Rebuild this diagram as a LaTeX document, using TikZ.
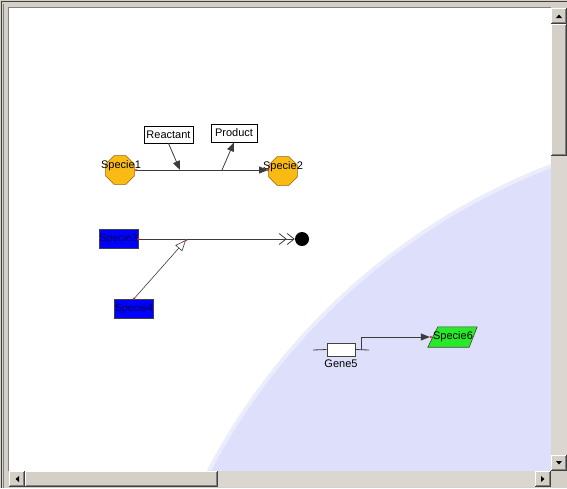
\documentclass[tikz,border=0pt]{standalone}
\usepackage{fontspec}
\setmainfont{Liberation Sans}
\usetikzlibrary{shapes.geometric,arrows.meta}
\definecolor{wingray}{RGB}{212,208,200}
\definecolor{windark}{RGB}{128,128,128}
\definecolor{winblack}{RGB}{64,64,64}
\definecolor{lav}{RGB}{222,223,250}
\definecolor{lavsoft}{RGB}{236,237,252}
\definecolor{orangefill}{RGB}{250,186,20}
\definecolor{orangeedge}{RGB}{150,100,0}
\definecolor{greenfill}{RGB}{40,235,40}
\definecolor{linegray}{RGB}{60,60,60}
\definecolor{dotred}{RGB}{220,40,40}
\tikzset{
  lbl/.style={font=\fontsize{11}{13}\selectfont, inner sep=0pt},
  octo/.style={regular polygon, regular polygon sides=8, minimum size=31pt, fill=orangefill, draw=orangeedge, line width=0.6pt, inner sep=0pt},
  bluebox/.style={rectangle, minimum width=39pt, minimum height=19pt, fill=blue, draw=winblack, line width=0.6pt, inner sep=0pt, text=blue!30!black, font=\fontsize{10.5}{12}\selectfont},
  whitebox/.style={rectangle, fill=white, draw=black, line width=0.6pt, inner xsep=2.5pt, minimum height=17pt, inner ysep=0pt, font=\fontsize{11}{13}\selectfont},
  conn/.style={draw=linegray, line width=0.8pt},
  filledtip/.style={-{Triangle[length=9pt,width=7pt]}},
  reddot/.style={circle, fill=dotred, inner sep=0pt, minimum size=2.5pt},
}
\begin{document}
\begin{tikzpicture}[x=1pt,y=-1pt]
\useasboundingbox (0,0) rectangle (567,488);
% window frame
\fill[wingray] (0,0) rectangle (567,488);
\draw[winblack, line width=1pt] (1.5,488) -- (1.5,1.5) -- (567,1.5);
\draw[windark, line width=1pt] (3.5,488) -- (3.5,3.5);
\draw[windark, line width=1pt] (8.5,471) -- (8.5,7.5) -- (551,7.5);
% canvas
\fill[white] (9,8) rectangle (551,471);
\begin{scope}
  \clip (9,8) rectangle (551,471);
  \fill[lavsoft] (784,772) circle (651);
  \fill[lav] (784,772) circle (647);
\end{scope}
% vertical scrollbar
\fill[wingray!85!white] (551,8) rectangle (567,471);
\foreach \ya/\yb in {8/24, 24/156, 455/471}{
  \fill[wingray] (551,\ya) rectangle (567,\yb);
  \draw[white, line width=1pt] (551.5,\yb) -- (551.5,\ya+0.5) -- (566,\ya+0.5);
  \draw[winblack, line width=1pt] (551,\yb-0.5) -- (566.5,\yb-0.5) -- (566.5,\ya);
  \draw[windark, line width=1pt] (552,\yb-1.5) -- (565.5,\yb-1.5) -- (565.5,\ya+1);
}
\fill[black] (556,18) -- (562,18) -- (559,14.5) -- cycle;
\fill[black] (556,461) -- (562,461) -- (559,464.5) -- cycle;
% horizontal scrollbar
\fill[wingray!85!white] (9,471) rectangle (551,487);
\foreach \xa/\xb in {9/25, 25/218, 535/551}{
  \fill[wingray] (\xa,471) rectangle (\xb,487);
  \draw[white, line width=1pt] (\xa+0.5,487) -- (\xa+0.5,471.5) -- (\xb,471.5);
  \draw[winblack, line width=1pt] (\xa,486.5) -- (\xb-0.5,486.5) -- (\xb-0.5,471);
  \draw[windark, line width=1pt] (\xa+1,485.5) -- (\xb-1.5,485.5) -- (\xb-1.5,472);
}
\fill[black] (19,476) -- (19,482) -- (15.5,479) -- cycle;
\fill[black] (541,476) -- (541,482) -- (544.5,479) -- cycle;

% ---- reaction 1
\node[octo] (s1) at (120,170) {};
\node[octo] (s2) at (283,171) {};
\node[lbl] (s1l) at (121,166) {Specie1};
\node[lbl] (s2l) at (283,167) {Specie2};
\node[whitebox, minimum width=47pt] (re) at (168.5,134.5) {Reactant};
\node[whitebox, minimum width=46pt, minimum height=18pt] (pr) at (234,133) {Product};
\coordinate (ra) at (136,170);
\coordinate (rb) at (268,170);
\coordinate (mi1) at (180,170);
\coordinate (mi2) at (222,170);
\path[conn, filledtip] (ra) -- (rb);
\path[conn, filledtip] (re.south) -- (mi1);
\path[conn, filledtip] (mi2) -- (pr.south);
\node[reddot] at (ra) {};
\node[reddot] at (rb) {};

% ---- reaction 2
\node[bluebox] (s3) at (118.5,239) {Specie3};
\node[bluebox] (s4) at (134,308.5) {Specie4};
\node[circle, fill=black, minimum size=14pt, inner sep=0pt] (sink) at (302,239) {};
\coordinate (c2) at (186,240);
\path[conn, -{Straight Barb[length=7pt,width=11pt] Straight Barb[length=7pt,width=11pt]}] (s3.east) -- (sink.west);
\path[conn, line width=0.6pt, -{Triangle[open,length=11pt,width=9pt,fill=white]}] (s4.north) -- (c2);
\node[reddot] at (s3.east) {};
\node[reddot] at (s4.north) {};
\node[reddot] at (c2) {};

% ---- gene
\node[rectangle, fill=white, draw=winblack, line width=0.6pt, minimum width=28pt, minimum height=13pt, inner sep=0pt] (g5) at (341,349.5) {};
\coordinate (gl) at (313,350);
\coordinate (gr) at (369,350);
\draw[conn] (gl) -- (g5.west);
\draw[conn] (g5.east) -- (gr);
\node[lbl, below=3pt] (g5l) at (g5.south) {Gene5};
\node[rectangle, minimum width=40pt, minimum height=20pt, inner sep=0pt, font=\fontsize{11}{13}\selectfont] (s6) at (453,337) {};
\filldraw[fill=greenfill, draw=winblack, line width=0.6pt]
  ([xshift=5pt]s6.north west) -- ([xshift=4pt]s6.north east) -- ([xshift=-4pt]s6.south east) -- ([xshift=-5pt]s6.south west) -- cycle;
\node[lbl] at (s6.center) {Specie6};
\coordinate (gp) at (361,350);
\path[conn, filledtip] (gp) |- ([xshift=-3pt]s6.west);
\node[reddot] at ([xshift=-2pt]s6.west) {};
\end{tikzpicture}
\end{document}
